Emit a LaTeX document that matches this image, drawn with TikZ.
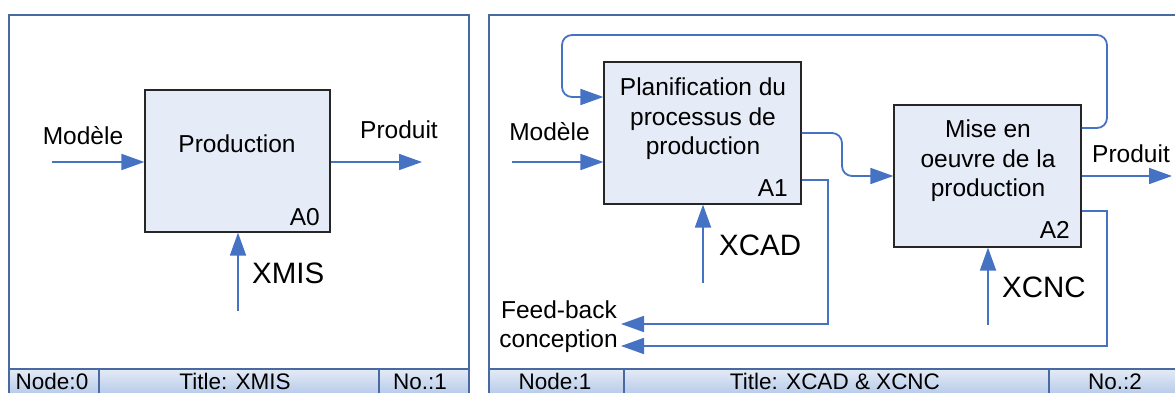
\documentclass[tikz,border=0pt]{standalone}
\usepackage{fontspec}
\setmainfont{Liberation Sans}
\usetikzlibrary{arrows.meta}
\definecolor{cadre}{RGB}{72,106,160}
\definecolor{fleuve}{RGB}{70,114,196}
\definecolor{fond}{RGB}{230,236,247}
\definecolor{bandehaut}{RGB}{228,235,247}
\definecolor{bandebas}{RGB}{184,204,234}

\begin{document}
\begin{tikzpicture}[x=1pt, y=-1pt,
  boite/.style={draw=black!85, fill=fond, line width=1.2pt,
    minimum width=#1, minimum height=142pt, inner sep=0pt},
  fleche/.style={draw=fleuve, line width=1.8pt,
    -{Triangle[length=23pt, width=16pt]}},
  texte/.style={font=\fontsize{24.5}{29.5}\selectfont, inner sep=0pt, anchor=base},
  grand/.style={font=\fontsize{29.5}{32}\selectfont, inner sep=0pt, anchor=base west},
  pied/.style={font=\fontsize{22.5}{24}\selectfont, inner sep=0pt, anchor=base}]

\useasboundingbox (0,0) rectangle (1175,393);
\clip (0,0) rectangle (1175,393);

% Cartouches
\shade[top color=bandehaut, bottom color=bandebas] (9,369) rectangle (469,393);
\shade[top color=bandehaut, bottom color=bandebas] (489,369) rectangle (1185,393);

% Cadres
\draw[cadre, line width=2pt] (9,15) rectangle (469,400);
\draw[cadre, line width=2pt] (489,15) rectangle (1185,400);
\draw[cadre, line width=1.5pt] (9,369) -- (469,369);
\draw[cadre, line width=1.5pt] (489,369) -- (1185,369);
\foreach \x in {99,379,624,1049} {
  \draw[cadre, line width=2pt] (\x,369) -- (\x,400);
}

% Textes des cartouches
\node[pied] (nd0) at (52,389)  {Node:0};
\node[pied] (ti0) at (235,389) {Title: XMIS};
\node[pied] (no0) at (420,389) {No.:1};
\node[pied] (nd1) at (555,389) {Node:1};
\node[pied] (ti1) at (835,389) {Title: XCAD \& XCNC};
\node[pied] (no1) at (1115,389) {No.:2};

% Diagramme A0
\node[boite=185pt] (a0) at (237.5,161) {};
\node[texte] (t0) at (237,153) {Production};
\node[texte, anchor=base east] (n0) at (320,225) {A0};

\coordinate (m0) at (52,162);
\coordinate (p0) at (422,162);
\coordinate (x0) at (238,311);
\draw[fleche] (m0) -- (a0.west |- m0);
\draw[fleche] (a0.east |- p0) -- (p0);
\draw[fleche] (x0) -- (x0 |- a0.south);

\node[texte] (lm0) at (83,144) {Modèle};
\node[texte] (lp0) at (399,139) {Produit};
\node[grand] (lx0) at (252,283) {XMIS};

% Diagramme A1 - A2
\node[boite=197pt] (a1) at (702.5,133) {};
\node[boite=187pt] (a2) at (987.5,176) {};
\node[texte, anchor=center, align=center] (t1) at (703,119)
  {Planification du\\processus de\\production};
\node[texte, anchor=center, align=center] (t2) at (988,161)
  {Mise en\\oeuvre de la\\production};
\node[texte, anchor=base east] (n1) at (788,196) {A1};
\node[texte, anchor=base east] (n2) at (1070,238) {A2};

\coordinate (m1) at (512,162);
\coordinate (x1) at (703,283);
\coordinate (x2) at (988,325);
\coordinate (p2) at (1172,176);
\coordinate (fb1) at (621,324);
\coordinate (fb2) at (621,346);

\draw[fleche] (m1) -- (a1.west |- m1);
\draw[fleche] (x1) -- (x1 |- a1.south);
\draw[fleche] (x2) -- (x2 |- a2.south);
\draw[fleche] (a2.east) -- (p2);
\draw[fleche, rounded corners=10pt] (a1.east) -| (842,176) -- (a2.west);
\draw[fleche, rounded corners=10pt] (a2.east |- 0,128) -| (1107,35) -| (562,97)
  -- (a1.west |- 0,97);
\draw[fleche] (a1.east |- 0,180) -| (828,324) -- (fb1);
\draw[fleche] (a2.east |- 0,211) -| (1107,346) -- (fb2);

\node[texte] (lm1) at (549.5,140) {Modèle};
\node[texte] (lp2) at (1131,162) {Produit};
\node[grand] (lx1) at (719,255) {XCAD};
\node[grand] (lx2) at (1002,297) {XCNC};
\node[texte] (lf1) at (559,318) {Feed-back};
\node[texte] (lf2) at (558.5,347) {conception};

\end{tikzpicture}
\end{document}
